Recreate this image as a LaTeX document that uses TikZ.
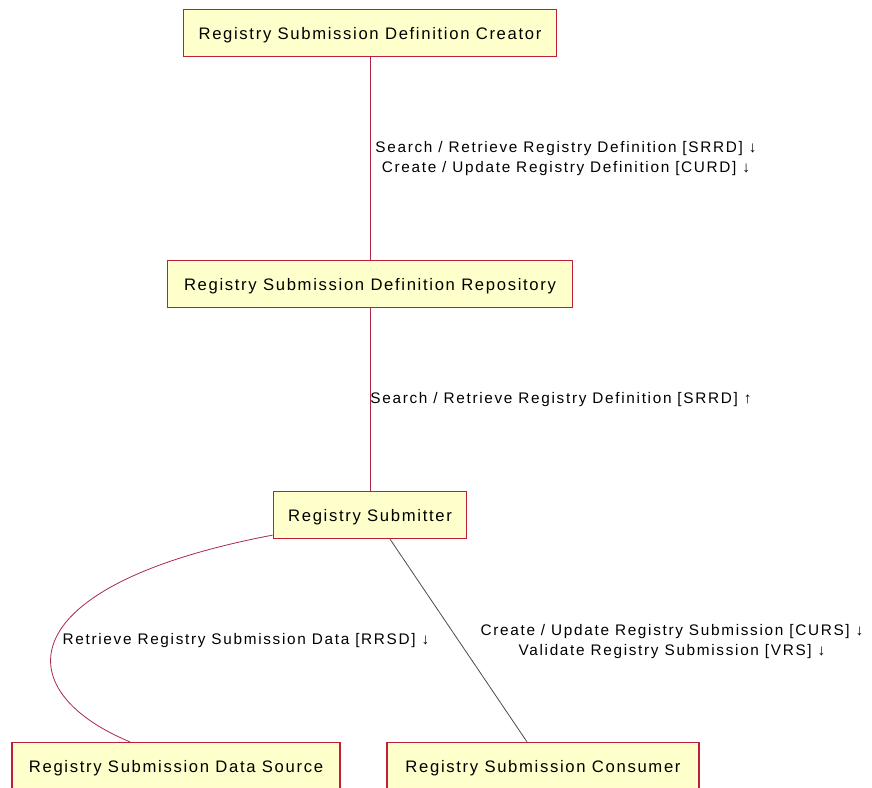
\documentclass[tikz,border=0pt]{standalone}
\usepackage{fontspec}
\setmainfont{Liberation Sans}
\definecolor{boxfill}{RGB}{255,255,204}
\definecolor{boxline}{RGB}{190,30,55}
\definecolor{linkred}{RGB}{170,40,70}
\tikzset{
  actor/.style={draw=boxline, fill=boxfill, line width=1.2pt, minimum height=35pt,
    inner xsep=10pt, text depth=0pt, font=\fontsize{12.5}{14}\selectfont\addfontfeatures{LetterSpace=10}},
  link/.style={draw=linkred, line width=0.6pt},
  tx/.style={font=\fontsize{11.5}{15}\selectfont\addfontfeatures{LetterSpace=11}, align=center}
}
\begin{document}
\begin{tikzpicture}[x=0.75pt,y=-0.75pt]
  \useasboundingbox (0,0) rectangle (872,788);
  \node[actor, minimum width=280pt] (creator) at (370,33) {Registry Submission Definition Creator};
  \node[actor, minimum width=304pt] (repo) at (370,284) {Registry Submission Definition Repository};
  \node[actor, minimum width=145pt] (submitter) at (370,515) {Registry Submitter};
  \node[actor, minimum width=246pt] (source) at (176,766) {Registry Submission Data Source};
  \node[actor, minimum width=234pt] (consumer) at (543,766) {Registry Submission Consumer};
  \draw[link] (creator) -- (repo);
  \draw[link] (repo) -- (submitter);
  \draw[link] (submitter.south west) ++(0,-4) coordinate (sw)
    (sw) .. controls (10,585) and (5,690) .. (source.north west -| 130,0);
  \draw[link, draw=gray!60!black] (submitter.south) ++(20,0) coordinate (sc)
    (sc) -- (consumer.north -| 527,0);
  \node[tx] (lbla) at (566,159) {Search / Retrieve Registry Definition [SRRD] ↓\\Create / Update Registry Definition [CURD] ↓};
  \node[tx] (lblb) at (561,400) {Search / Retrieve Registry Definition [SRRD] ↑};
  \node[tx] (lblc) at (246,641) {Retrieve Registry Submission Data [RRSD] ↓};
  \node[tx] (lbld) at (672,642) {Create / Update Registry Submission [CURS] ↓\\Validate Registry Submission [VRS] ↓};
\end{tikzpicture}
\end{document}
